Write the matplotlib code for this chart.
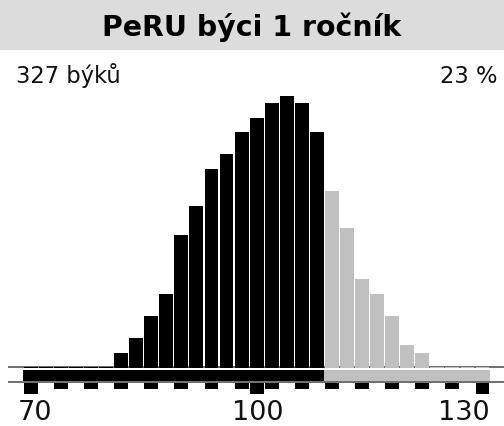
import matplotlib
matplotlib.use("Agg")
import matplotlib.pyplot as plt
from matplotlib.patches import Rectangle

# ---- data ----
title = "PeRU býci 1 ročník"
count_label = "327 býků"
pct_label = "23 %"
bin_centers = list(range(70, 131, 2))
bin_values = [0, 0, 0, 0, 0, 0, 2, 4, 7, 10, 18, 22, 27, 29, 32, 34, 36, 37, 36, 32,
              24, 19, 12, 10, 7, 3, 2, 0, 0, 0, 0]
threshold = 109
range_lo, range_hi = 69, 131
minor_ticks = [74, 78, 82, 86, 90, 94, 98, 102, 106, 110, 114, 118, 122, 126]
major_ticks = [70, 100, 130]
major_labels = ["70", "100", "130"]

BLACK = "#000000"
GRAY = "#c0c0c0"
LINE = "#555555"

W, H, DPI = 504, 427, 100
fig = plt.figure(figsize=(W / DPI, H / DPI), dpi=DPI)
ax = fig.add_axes([0, 0, 1, 1])
ax.set_xlim(65.92, 132.85)
ax.set_ylim(-7.96, 50.14)
ax.axis("off")

px_x = (132.85 - 65.92) / W   # units per pixel

# bars
for c, v in zip(bin_centers, bin_values):
    col = BLACK if c < threshold else GRAY
    ax.bar(c, v + 0.12, bottom=-0.12, width=2 - px_x * 1.2, color=col,
           linewidth=0, zorder=3)

# baseline lines
ax.plot([66.98, 132.85], [0, 0], color=LINE, lw=1.2, zorder=2, solid_capstyle="butt")
ax.plot([66.98, 132.85], [-2.01, -2.01], color=LINE, lw=1.2, zorder=2, solid_capstyle="butt")

# range bar
ax.add_patch(Rectangle((range_lo, -1.84), threshold - range_lo, 1.5,
                       facecolor=BLACK, edgecolor="none", zorder=3))
ax.add_patch(Rectangle((threshold, -1.84), range_hi - threshold, 1.5,
                       facecolor=GRAY, edgecolor="none", zorder=3))

# ticks
tw = 2 - px_x * 1.2
for t in minor_ticks:
    ax.add_patch(Rectangle((t - tw / 2, -2.95), tw, 0.85, facecolor=BLACK,
                           edgecolor="none", zorder=3))
for t in major_ticks:
    ax.add_patch(Rectangle((t - tw / 2, -3.62), tw, 1.52, facecolor=BLACK,
                           edgecolor="none", zorder=3))

# tick labels
aligns = ["left", "center", "right"]
offs = [-1.7, 0.1, 0.9]
for t, lab, ha, o in zip(major_ticks, major_labels, aligns, offs):
    ax.text(t + o, -7.0, lab, ha=ha, va="baseline", fontsize=19.5,
            color="#111111", family="DejaVu Sans")

# title band
fig.patches.append(Rectangle((0, 1 - 50.5 / H), 1, 50.5 / H, transform=fig.transFigure,
                             facecolor="#dcdcdc", edgecolor="none", zorder=0))
fig.text(0.5, 1 - 36 / H, title, ha="center", va="baseline", fontsize=20.4,
         fontweight="bold", color="#000000", family="DejaVu Sans")
fig.text(16 / W, 1 - 83 / H, count_label, ha="left", va="baseline", fontsize=16.3,
         color="#111111", family="DejaVu Sans")
fig.text(497 / W, 1 - 83 / H, pct_label, ha="right", va="baseline", fontsize=16.3,
         color="#111111", family="DejaVu Sans")

fig.savefig("out.png", dpi=DPI)
